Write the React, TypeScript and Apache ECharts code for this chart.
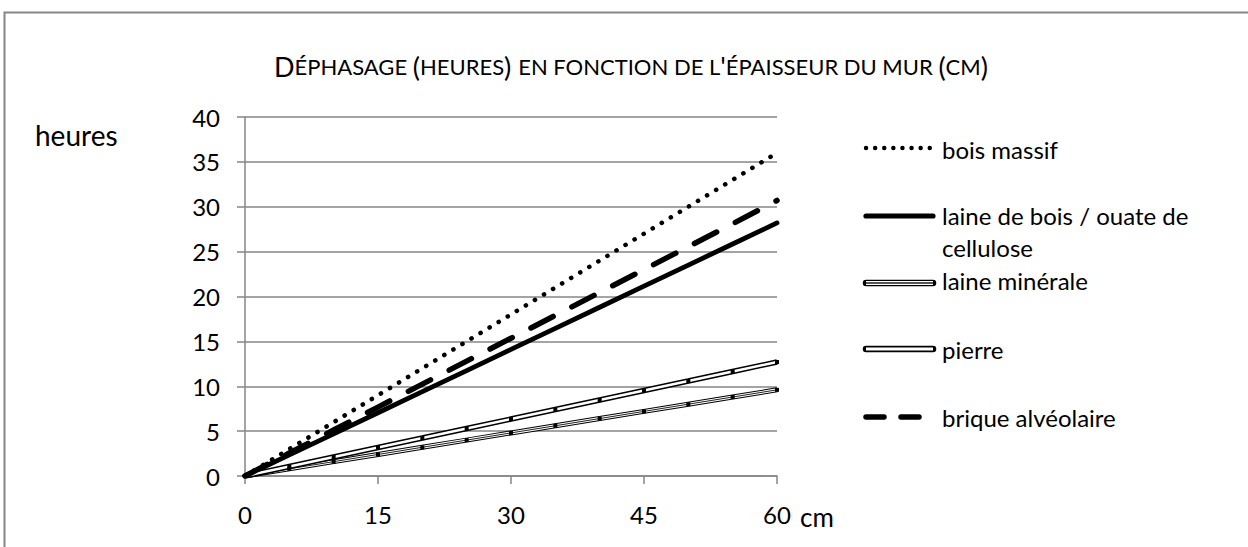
import React, { useEffect, useRef } from "react";
import * as echarts from "echarts";

// Épaisseur du mur (cm)
const thicknessCm = [0, 5, 10, 15, 20, 25, 30, 35, 40, 45, 50, 55, 60];
// Déphasage (heures)
const boisMassif = [0, 3, 6, 9, 12, 15, 18, 21, 24, 27, 30, 33, 36];
const laineBois = [0, 2.35, 4.7, 7.05, 9.4, 11.75, 14.1, 16.45, 18.8, 21.15, 23.5, 25.85, 28.2];
const laineMinerale = [0, 0.8, 1.6, 2.4, 3.2, 4, 4.8, 5.6, 6.4, 7.2, 8, 8.8, 9.6];
const pierre = [0, 1.06, 2.12, 3.18, 4.23, 5.29, 6.35, 7.41, 8.47, 9.53, 10.58, 11.64, 12.7];
const brique = [0, 2.56, 5.12, 7.68, 10.24, 12.8, 15.35, 17.9, 20.45, 23, 25.55, 28.1, 30.7];

const seriesNames = [
  "bois massif",
  "laine de bois / ouate de\ncellulose",
  "laine minérale",
  "pierre",
  "brique alvéolaire",
];

const X_MIN = 0, X_MAX = 60, X_STEP = 15;
const Y_MIN = 0, Y_MAX = 40, Y_STEP = 5;

const FONT = "Lato";
const GRAY = "#868686";

const pairs = (vals: number[]) => thicknessCm.map((x, i) => [x, vals[i]]);

export default function App() {
  const ref = useRef<HTMLDivElement>(null);

  useEffect(() => {
    if (!ref.current) return;
    const chart = echarts.init(ref.current, undefined, { renderer: "svg" });

    const base = { type: "line", symbol: "none", silent: true };
    const marker = {
      symbol: "rect",
      symbolSize: 4,
      showSymbol: true,
      itemStyle: { color: "#000", borderWidth: 0 },
    };

    const legendX1 = 866, legendX2 = 933, textX = 942;
    const legendText = (y: number, text: string) => ({
      type: "text",
      x: textX,
      y,
      style: {
        text,
        fontFamily: FONT,
        fontSize: 24,
        fill: "#000",
        verticalAlign: "middle",
        lineHeight: 32,
      },
    });
    const legendLine = (y: number, style: any) => ({
      type: "line",
      shape: { x1: legendX1, y1: y, x2: legendX2, y2: y },
      style,
    });

    const title =
      "{b|D}{s|ÉPHASAGE }{b|(}{s|HEURES}{b|) }{s|EN FONCTION DE L}{b|'}{s|ÉPAISSEUR DU MUR }{b|(}{s|CM}{b|)}";

    chart.setOption({
      animation: false,
      backgroundColor: "#fff",
      title: {
        text: title,
        left: 631,
        top: 53,
        padding: 0,
        textAlign: "center",
        textStyle: {
          fontWeight: "normal",
          rich: {
            b: { fontFamily: FONT, fontSize: 27, fontWeight: "normal", color: "#000" },
            s: { fontFamily: FONT, fontSize: 22, fontWeight: "normal", color: "#000" },
          },
        },
      },
      grid: { left: 245, right: 471, top: 117, bottom: 71, containLabel: false },
      xAxis: {
        type: "value",
        min: X_MIN,
        max: X_MAX,
        interval: X_STEP,
        axisLine: { show: true, lineStyle: { color: GRAY, width: 1.5 } },
        axisTick: { show: true, length: 8, lineStyle: { color: GRAY, width: 1.5 } },
        axisLabel: { fontFamily: FONT, fontSize: 24, color: "#000", margin: 26 },
        splitLine: { show: false },
      },
      yAxis: {
        type: "value",
        min: Y_MIN,
        max: Y_MAX,
        interval: Y_STEP,
        axisLine: { show: true, lineStyle: { color: GRAY, width: 1.5 } },
        axisTick: { show: true, length: 8, lineStyle: { color: GRAY, width: 1.5 } },
        axisLabel: { fontFamily: FONT, fontSize: 24, color: "#000", margin: 25 },
        splitLine: { show: true, lineStyle: { color: GRAY, width: 1.5 } },
      },
      series: [
        {
          ...base,
          name: seriesNames[0],
          data: pairs(boisMassif),
          lineStyle: { color: "#000", width: 4.6, type: [0.1, 10.5], cap: "round" },
        },
        {
          ...base,
          name: seriesNames[1],
          data: pairs(laineBois),
          lineStyle: { color: "#000", width: 4.8, cap: "round" },
        },
        {
          ...base,
          name: seriesNames[2],
          data: pairs(laineMinerale),
          lineStyle: { color: "#000", width: 5 },
        },
        {
          ...base,
          name: seriesNames[2] + " ",
          data: pairs(laineMinerale),
          lineStyle: { color: "#fff", width: 3 },
        },
        {
          ...base,
          ...marker,
          name: seriesNames[2] + "  ",
          data: pairs(laineMinerale),
          lineStyle: { color: "#222", width: 1 },
        },
        {
          ...base,
          name: seriesNames[3],
          data: pairs(pierre),
          lineStyle: { color: "#000", width: 5.5 },
        },
        {
          ...base,
          ...marker,
          name: seriesNames[3] + " ",
          data: pairs(pierre),
          lineStyle: { color: "#fff", width: 2.5 },
        },
        {
          ...base,
          name: seriesNames[4],
          data: pairs(brique),
          lineStyle: { color: "#000", width: 5.5, type: [25, 21], cap: "round" },
        },
      ],
      graphic: [
        {
          type: "rect",
          shape: { x: 4.5, y: 12.5, width: 1400, height: 700 },
          style: { fill: "none", stroke: GRAY, lineWidth: 2 },
          silent: true,
        },
        {
          type: "text",
          x: 35,
          y: 134.5,
          style: { text: "heures", fontFamily: FONT, fontSize: 28, fill: "#000", verticalAlign: "middle" },
        },
        {
          type: "text",
          x: 800,
          y: 517,
          style: { text: "cm", fontFamily: FONT, fontSize: 26, fill: "#000", verticalAlign: "middle" },
        },
        legendLine(148, { stroke: "#000", lineWidth: 4.4, lineDash: [0.1, 9], lineCap: "round" }),
        legendText(149, seriesNames[0]),
        legendLine(216, { stroke: "#000", lineWidth: 5.2, lineCap: "round" }),
        legendText(231, seriesNames[1]),
        legendLine(283, { stroke: "#000", lineWidth: 6.5, lineCap: "round" }),
        legendLine(283, { stroke: "#fff", lineWidth: 4 }),
        legendLine(283, { stroke: "#555", lineWidth: 2 }),
        legendText(280, seriesNames[2]),
        legendLine(349, { stroke: "#000", lineWidth: 6.5, lineCap: "round" }),
        legendLine(349, { stroke: "#fff", lineWidth: 3 }),
        legendText(349, seriesNames[3]),
        legendLine(417, { stroke: "#000", lineWidth: 5.5, lineDash: [18, 17], lineCap: "round" }),
        legendText(417, seriesNames[4]),
      ],
    });

    return () => chart.dispose();
  }, []);

  return (
    <div
      ref={ref}
      style={{ position: "fixed", left: 0, top: 0, width: 1248, height: 547 }}
    />
  );
}
